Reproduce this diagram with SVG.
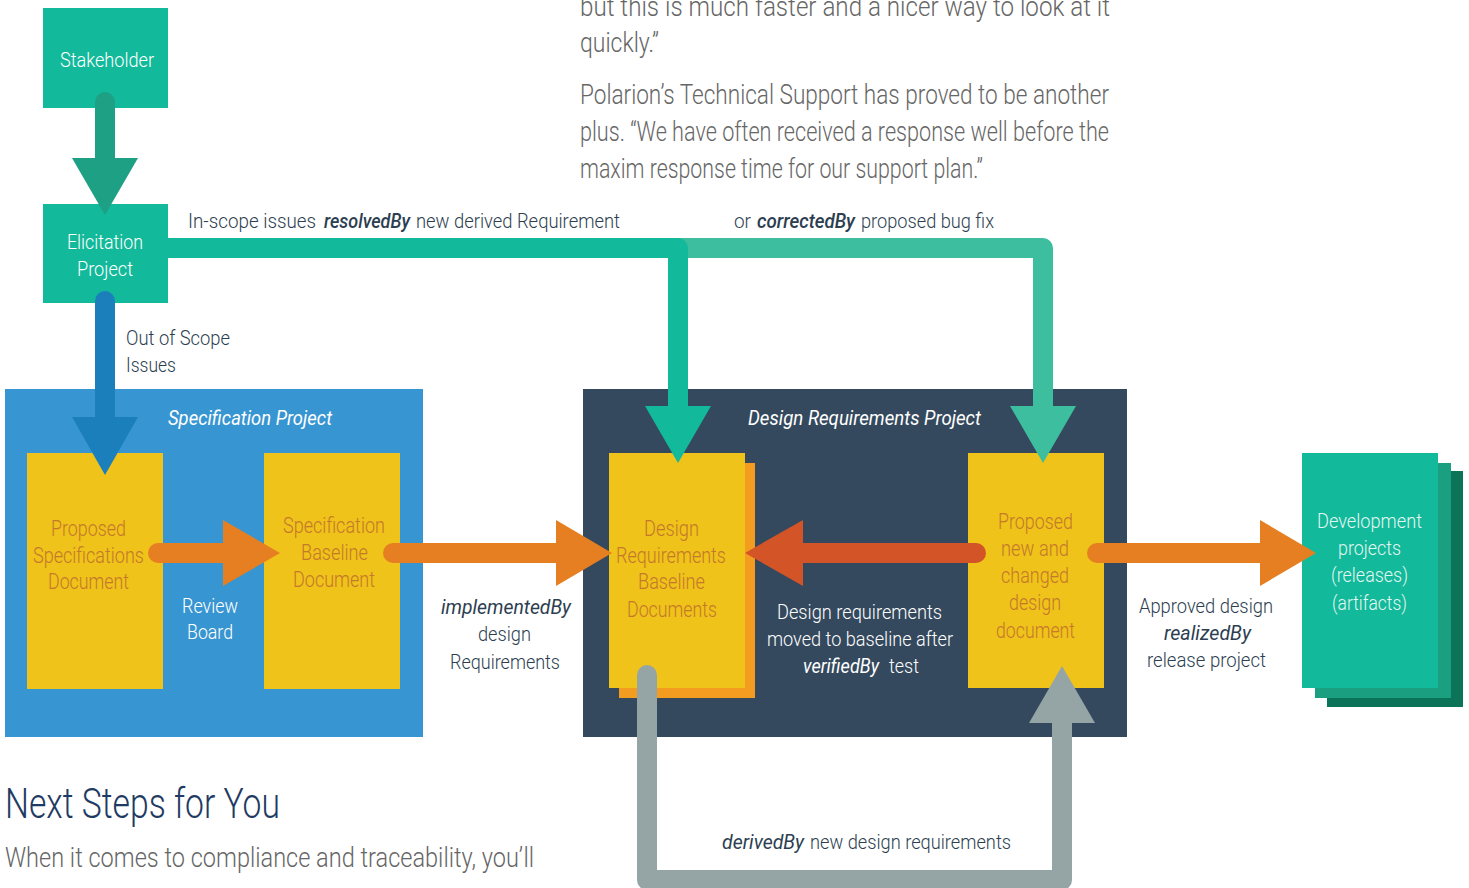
<svg xmlns="http://www.w3.org/2000/svg" width="1469" height="888" viewBox="0 0 1469 888">
<style>
text{font-family:Roboto,"Liberation Sans",Arial,sans-serif;font-weight:300}
.body{font-size:27px;fill:#666666}
.lbl{font-size:21px;fill:#2c3e50}
.w{font-size:21px;fill:#ffffff}
.wd{font-size:21px;fill:#e3f6f1}
.y{font-size:22px;fill:#c4782c}
.it{font-style:italic;font-weight:400}
.itb{font-style:italic;font-weight:500}
.teal{fill:#12b99a}
.yel{fill:#efc319}
.sh{fill:none;stroke-width:20;stroke-linecap:round;stroke-linejoin:round}
</style>
<rect width="1469" height="888" fill="#ffffff"/>

<g id="page-text">
<text class="body" x="580" y="16" textLength="530" lengthAdjust="spacingAndGlyphs">but this is much faster and a nicer way to look at it</text>
<text class="body" x="580" y="52" textLength="79" lengthAdjust="spacingAndGlyphs">quickly.”</text>
<text class="body" x="580" y="104" textLength="529" lengthAdjust="spacingAndGlyphs">Polarion’s Technical Support has proved to be another</text>
<text class="body" x="580" y="141" textLength="529" lengthAdjust="spacingAndGlyphs">plus. “We have often received a response well before the</text>
<text class="body" x="580" y="178" textLength="403" lengthAdjust="spacingAndGlyphs">maxim response time for our support plan.”</text>
<text x="5" y="818" font-size="42" fill="#1f3b63" textLength="275" lengthAdjust="spacingAndGlyphs">Next Steps for You</text>
<text class="body" x="5" y="867" textLength="529" lengthAdjust="spacingAndGlyphs">When it comes to compliance and traceability, you’ll</text>
</g>

<g id="specification-project">
<rect x="5" y="389" width="418" height="348" fill="#3795d2"/>
<text class="w it" x="168" y="425" textLength="164" lengthAdjust="spacingAndGlyphs">Specification Project</text>
</g>
<g id="design-requirements-project">
<rect x="583" y="389" width="544" height="348" fill="#34495e"/>
<text class="w it" x="748" y="425" textLength="233" lengthAdjust="spacingAndGlyphs">Design Requirements Project</text>
</g>

<g id="stakeholder">
<rect class="teal" x="43" y="8" width="125" height="100"/>
<text class="w" x="60" y="67" textLength="94" lengthAdjust="spacingAndGlyphs">Stakeholder</text>
</g>
<g id="elicitation-project">
<rect class="teal" x="43" y="204" width="125" height="99"/>
<text class="w" x="67" y="249" textLength="76" lengthAdjust="spacingAndGlyphs">Elicitation</text>
<text class="w" x="77" y="276" textLength="56" lengthAdjust="spacingAndGlyphs">Project</text>
</g>

<g id="proposed-specifications-document">
<rect class="yel" x="27" y="453" width="136" height="236"/>
<text class="y" x="51" y="536" textLength="75" lengthAdjust="spacingAndGlyphs">Proposed</text>
<text class="y" x="33" y="563" textLength="111" lengthAdjust="spacingAndGlyphs">Specifications</text>
<text class="y" x="48" y="589" textLength="81" lengthAdjust="spacingAndGlyphs">Document</text>
</g>
<g id="specification-baseline-document">
<rect class="yel" x="264" y="453" width="136" height="236"/>
<text class="y" x="283" y="533" textLength="102" lengthAdjust="spacingAndGlyphs">Specification</text>
<text class="y" x="301" y="560" textLength="67" lengthAdjust="spacingAndGlyphs">Baseline</text>
<text class="y" x="293" y="587" textLength="82" lengthAdjust="spacingAndGlyphs">Document</text>
</g>
<g id="design-requirements-baseline-documents">
<rect x="619" y="463" width="136" height="235" fill="#f39c1f"/>
<rect class="yel" x="609" y="453" width="136" height="235"/>
<text class="y" x="644" y="536" textLength="55" lengthAdjust="spacingAndGlyphs">Design</text>
<text class="y" x="616" y="563" textLength="110" lengthAdjust="spacingAndGlyphs">Requirements</text>
<text class="y" x="638" y="589" textLength="67" lengthAdjust="spacingAndGlyphs">Baseline</text>
<text class="y" x="627" y="617" textLength="90" lengthAdjust="spacingAndGlyphs">Documents</text>
</g>
<g id="proposed-design-document">
<rect class="yel" x="968" y="453" width="136" height="235"/>
<text class="y" x="998" y="529" textLength="75" lengthAdjust="spacingAndGlyphs">Proposed</text>
<text class="y" x="1001" y="556" textLength="68" lengthAdjust="spacingAndGlyphs">new and</text>
<text class="y" x="1001" y="583" textLength="68" lengthAdjust="spacingAndGlyphs">changed</text>
<text class="y" x="1009" y="610" textLength="52" lengthAdjust="spacingAndGlyphs">design</text>
<text class="y" x="996" y="638" textLength="79" lengthAdjust="spacingAndGlyphs">document</text>
</g>
<g id="development-projects">
<rect x="1327" y="471" width="136" height="236" fill="#0b7358"/>
<rect x="1315" y="463" width="136" height="235" fill="#1a9f81"/>
<rect class="teal" x="1302" y="453" width="136" height="235"/>
<text class="wd" x="1317" y="528" textLength="105" lengthAdjust="spacingAndGlyphs">Development</text>
<text class="wd" x="1338" y="555" textLength="63" lengthAdjust="spacingAndGlyphs">projects</text>
<text class="wd" x="1331" y="582" textLength="77" lengthAdjust="spacingAndGlyphs">(releases)</text>
<text class="wd" x="1332" y="610" textLength="75" lengthAdjust="spacingAndGlyphs">(artifacts)</text>
</g>

<g id="connectors">
<path class="sh" d="M105 102V158" stroke="#1ea084"/>
<polygon points="72,158 138,158 105,215" fill="#1ea084"/>
<path class="sh" d="M105 301V417" stroke="#1b7fbc"/>
<polygon points="72,417 138,417 105,475" fill="#1b7fbc"/>
<path class="sh" d="M527 248H1043V406" stroke="#3dbf9f" stroke-linecap="butt"/>
<polygon points="1010,406 1076,406 1043,463" fill="#3dbf9f"/>
<path class="sh" d="M168 248H678V406" stroke="#12b99a" stroke-linecap="butt"/>
<polygon points="645,406 711,406 678,463" fill="#12b99a"/>
<path class="sh" d="M158 553H223" stroke="#e67e22"/>
<polygon points="223,520 280,553 223,586" fill="#e67e22"/>
<path class="sh" d="M393 553H556" stroke="#e67e22"/>
<polygon points="556,520 612,553 556,586" fill="#e67e22"/>
<path class="sh" d="M976 553H803" stroke="#d35427"/>
<polygon points="803,520 745,553 803,586" fill="#d35427"/>
<path class="sh" d="M1097 553H1260" stroke="#e67e22"/>
<polygon points="1260,520 1316,553 1260,586" fill="#e67e22"/>
<path class="sh" d="M647 675V880H1062V723" stroke="#95a5a6"/>
<polygon points="1029,723 1095,723 1062,666" fill="#95a5a6"/>

<text class="lbl" x="188" y="228" textLength="128" lengthAdjust="spacingAndGlyphs">In-scope issues</text>
<text class="lbl itb" x="324" y="228" textLength="86" lengthAdjust="spacingAndGlyphs">resolvedBy</text>
<text class="lbl" x="416" y="228" textLength="204" lengthAdjust="spacingAndGlyphs">new derived Requirement</text>
<text class="lbl" x="734" y="228" textLength="17" lengthAdjust="spacingAndGlyphs">or</text>
<text class="lbl itb" x="757" y="228" textLength="98" lengthAdjust="spacingAndGlyphs">correctedBy</text>
<text class="lbl" x="861" y="228" textLength="133" lengthAdjust="spacingAndGlyphs">proposed bug fix</text>
<text class="lbl" x="126" y="345" textLength="104" lengthAdjust="spacingAndGlyphs">Out of Scope</text>
<text class="lbl" x="126" y="372" textLength="50" lengthAdjust="spacingAndGlyphs">Issues</text>
<text class="w" x="182" y="613" textLength="56" lengthAdjust="spacingAndGlyphs">Review</text>
<text class="w" x="187" y="639" textLength="46" lengthAdjust="spacingAndGlyphs">Board</text>
<text class="lbl it" x="441" y="614" textLength="130" lengthAdjust="spacingAndGlyphs">implementedBy</text>
<text class="lbl" x="478" y="641" textLength="53" lengthAdjust="spacingAndGlyphs">design</text>
<text class="lbl" x="450" y="669" textLength="110" lengthAdjust="spacingAndGlyphs">Requirements</text>
<text class="w" x="777" y="619" textLength="165" lengthAdjust="spacingAndGlyphs">Design requirements</text>
<text class="w" x="767" y="646" textLength="186" lengthAdjust="spacingAndGlyphs">moved to baseline after</text>
<text class="w it" x="803" y="673" textLength="76" lengthAdjust="spacingAndGlyphs">verifiedBy</text>
<text class="w" x="889" y="673" textLength="30" lengthAdjust="spacingAndGlyphs">test</text>
<text class="lbl" x="1139" y="613" textLength="134" lengthAdjust="spacingAndGlyphs">Approved design</text>
<text class="lbl it" x="1164" y="640" textLength="87" lengthAdjust="spacingAndGlyphs">realizedBy</text>
<text class="lbl" x="1147" y="667" textLength="119" lengthAdjust="spacingAndGlyphs">release project</text>
<text class="lbl it" x="722" y="849" textLength="82" lengthAdjust="spacingAndGlyphs">derivedBy</text>
<text class="lbl" x="810" y="849" textLength="201" lengthAdjust="spacingAndGlyphs">new design requirements</text>
</g>
</svg>
